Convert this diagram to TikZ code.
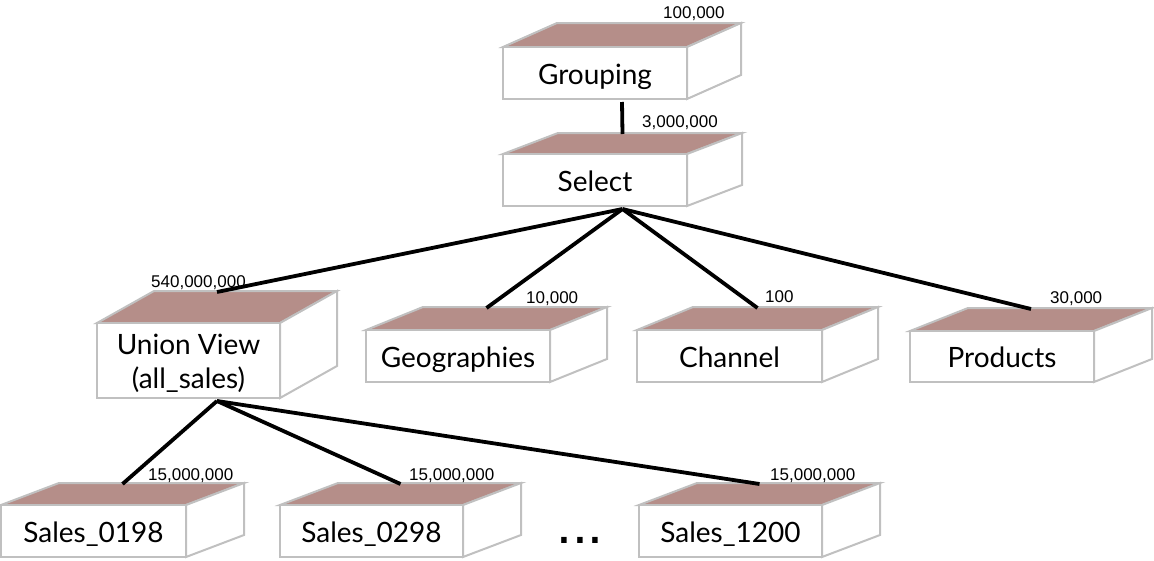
\documentclass[tikz,border=0pt]{standalone}
\usepackage{fontspec}
\newfontfamily\numfont{Liberation Sans}
\newfontfamily\lblfont{Lato}
\definecolor{boxgray}{RGB}{192,192,192}
\definecolor{topbrown}{RGB}{181,142,137}
\tikzset{
  face/.style={draw=boxgray, line width=2pt, line join=miter},
  link/.style={line width=3.8pt, black},
  num/.style={font=\numfont\fontsize{17}{19}\selectfont, anchor=base west, inner sep=0pt},
  lbl/.style={font=\lblfont\fontsize{28}{34}\selectfont, anchor=base, inner sep=0pt},
  dots/.style={font=\numfont\fontsize{57}{60}\selectfont, anchor=base west, inner sep=0pt}
}
% name, x, y(front top), w, h, dx, dy, text
\newcommand\cubebox[8]{%
  \draw[face, fill=topbrown] (#2,#3) -- ++(#6,-#7) -- ++(#4,0) -- ++(-#6,#7) -- cycle;
  \draw[face, fill=white] (#2+#4,#3) -- ++(#6,-#7) -- ++(0,#5) -- ++(-#6,#7) -- cycle;
  \draw[face, fill=white] (#2,#3) rectangle ++(#4,#5);
  \node[lbl] (#1) at (#2+#4/2,#3+#5/2+11) {#8};
  \coordinate (#1-top) at (#2+#4/2+#6/2,#3-#7+1);
  \coordinate (#1-bot) at (#2+#4/2+#6/2,#3+#5+3);
}
\begin{document}
\begin{tikzpicture}[x=1pt,y=-1pt]
\useasboundingbox (0,0) rectangle (1154,560);
\cubebox{grp}{503}{47}{184}{52}{54}{24}{Grouping}
\cubebox{sel}{503}{154}{184}{52}{55}{21}{Select}
\cubebox{uni}{97}{323}{183}{75}{57}{32}{}
\node[lbl] (uni1) at (188.5,354) {Union View};
\node[lbl] (uni2) at (188.5,388) {(all\_sales)};
\cubebox{geo}{366}{330}{184}{52}{57}{23}{Geographies}
\cubebox{cha}{637}{330}{185}{52}{56}{23}{Channel}
\cubebox{pro}{910}{331}{184}{51}{58}{23}{Products}
\cubebox{sa}{1}{505}{185}{52}{58}{22}{Sales\_0198}
\cubebox{sb}{280}{505}{183}{52}{58}{22}{Sales\_0298}
\cubebox{sc}{639}{505}{183}{52}{58}{22}{Sales\_1200}
\node[dots] (ell) at (556,543) {...};
% row counts
\node[num] (ngrp) at (663,18) {100,000};
\node[num] (nsel) at (642,127) {3,000,000};
\node[num] (nuni) at (151,287) {540,000,000};
\node[num] (ngeo) at (526,303) {10,000};
\node[num] (ncha) at (765,302) {100};
\node[num] (npro) at (1050,303) {30,000};
\node[num] (nsa) at (148,480) {15,000,000};
\node[num] (nsb) at (409,480) {15,000,000};
\node[num] (nsc) at (770,480) {15,000,000};
% connectors
\draw[link] (grp-bot) -- (sel-top);
\draw[link] (sel-bot) -- (uni-top);
\draw[link] (sel-bot) -- (geo-top);
\draw[link] (sel-bot) -- (cha-top);
\draw[link] (sel-bot) -- (pro-top);
\draw[link] (uni-bot) -- (sa-top);
\draw[link] (uni-bot) -- (sb-top);
\draw[link] (uni-bot) -- (sc-top);
\end{tikzpicture}
\end{document}
